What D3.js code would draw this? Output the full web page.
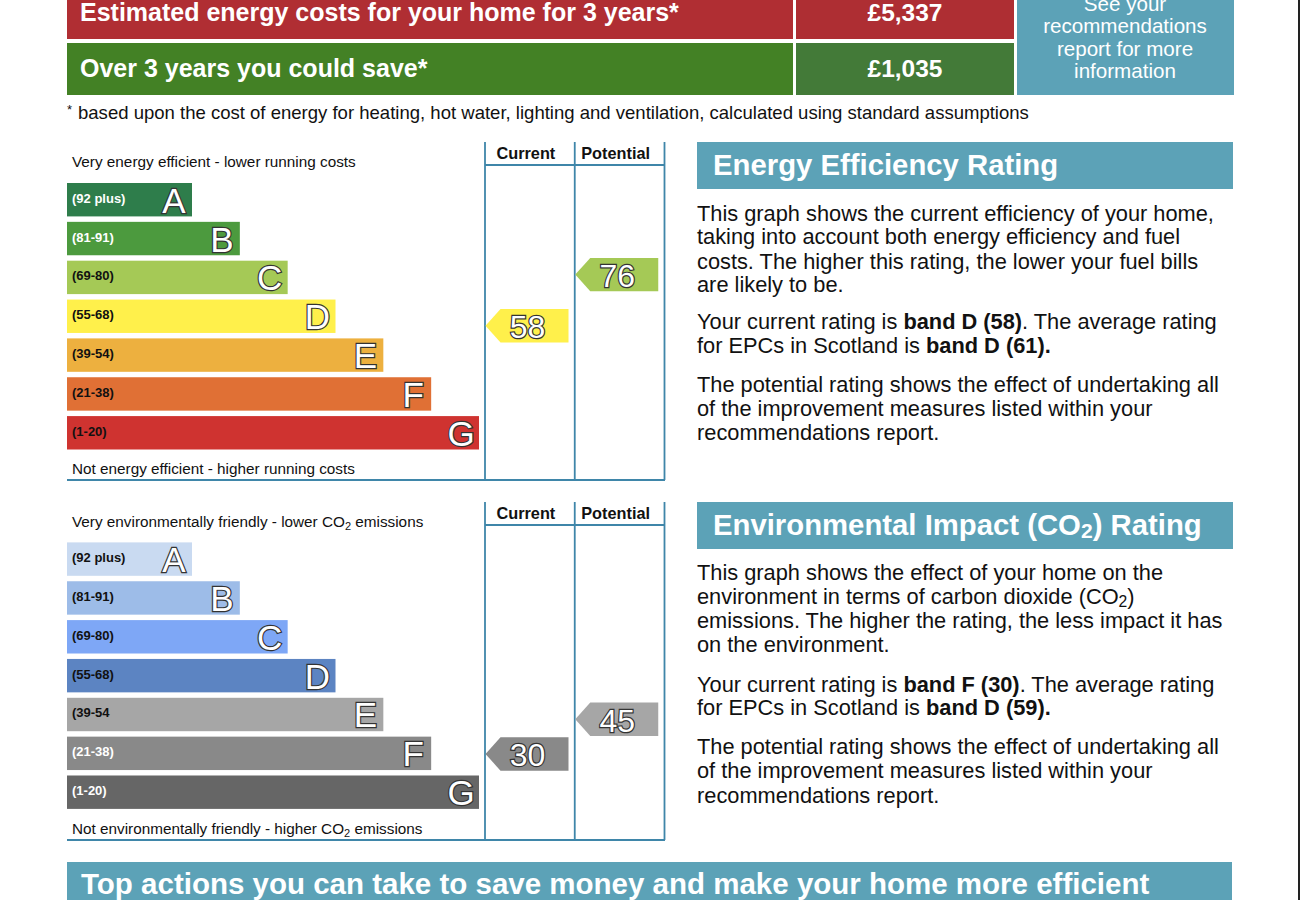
<!DOCTYPE html>
<html>
<head>
<meta charset="utf-8">
<script src="https://cdn.jsdelivr.net/npm/d3@7"></script>
<style>
  html, body { margin: 0; padding: 0; background: #fff; }
  svg { display: block; }
  text { font-family: "Liberation Sans", Arial, sans-serif; }
</style>
</head>
<body>
<div id="chart"></div>
<script>
// bands and their score limits, best band first
var bandLetters = ['A', 'B', 'C', 'D', 'E', 'F', 'G'];
var bandSteps = [1, 2, 3, 4, 5, 6, 7];
var bandRanges = ['(92 plus)', '(81-91)', '(69-80)', '(55-68)', '(39-54)', '(21-38)', '(1-20)'];
var bandRangesCo2 = ['(92 plus)', '(81-91)', '(69-80)', '(55-68)', '(39-54', '(21-38)', '(1-20)'];
var bandTops = [100, 92, 81, 69, 55, 39, 21];
var bandBottoms = [92, 81, 69, 55, 39, 21, 1];

var energyColors = ['#2e7d4b', '#4c9a3e', '#a5c956', '#fff04b', '#edb03f', '#e07035', '#cf3330'];
var energyLabelColors = ['#fff', '#fff', '#111', '#111', '#111', '#111', '#111'];
var co2Colors = ['#c9daf1', '#9dbce8', '#7ea7f6', '#5c84c2', '#a6a6a6', '#898989', '#666666'];
var co2LabelColors = ['#111', '#111', '#111', '#111', '#111', '#fff', '#fff'];

var energyScores = [58, 76];
var energyArrowColors = ['#fff04b', '#a5c956'];
var co2Scores = [30, 45];
var co2ArrowColors = ['#898989', '#a6a6a6'];
var columnNames = ['Current', 'Potential'];

var costRows = ['Estimated energy costs for your home for 3 years*', 'Over 3 years you could save*'];
var costValues = ['£5,337', '£1,035'];
var costColors = ['#b02e33', '#438125'];
var costValueColors = ['#ae2e33', '#437a38'];
var seeReport = ['See your', 'recommendations', 'report for more', 'information'];

var energyText = [
  ['This graph shows the current efficiency of your home,', 221],
  ['taking into account both energy efficiency and fuel', 244],
  ['costs. The higher this rating, the lower your fuel bills', 269],
  ['are likely to be.', 292],
  ['Your current rating is <b>band D (58)</b>. The average rating', 329],
  ['for EPCs in Scotland is <b>band D (61).</b>', 353],
  ['The potential rating shows the effect of undertaking all', 392],
  ['of the improvement measures listed within your', 416],
  ['recommendations report.', 440]
];
var co2Text = [
  ['This graph shows the effect of your home on the', 579.5],
  ['environment in terms of carbon dioxide (CO<s>2</s>)', 604],
  ['emissions. The higher the rating, the less impact it has', 628],
  ['on the environment.', 652],
  ['Your current rating is <b>band F (30)</b>. The average rating', 692],
  ['for EPCs in Scotland is <b>band D (59).</b>', 715],
  ['The potential rating shows the effect of undertaking all', 754],
  ['of the improvement measures listed within your', 778],
  ['recommendations report.', 803]
];

var teal = '#5ca2b7';
var ruleColor = '#3f86a9';

var svg = d3.select('#chart').append('svg')
  .attr('width', 1300)
  .attr('height', 900);

svg.append('rect').attr('x', 1298).attr('y', 0).attr('width', 2).attr('height', 900).attr('fill', '#222');

// turns "<b>..</b>" and "<s>..</s>" markup into tspans
function addRichText(sel, str) {
  var nextDy = null;
  str.split(/(<b>.*?<\/b>|<s>.*?<\/s>)/).forEach(function(part) {
    if (!part) return;
    if (part.indexOf('<s>') === 0) {
      sel.append('tspan').attr('dy', 3).attr('font-size', '0.72em').text(part.replace(/<\/?s>/g, ''));
      nextDy = -3;
      return;
    }
    var bold = part.indexOf('<b>') === 0;
    var span = sel.append('tspan').text(part.replace(/<\/?b>/g, ''));
    if (bold) span.attr('font-weight', 'bold');
    if (nextDy !== null) {
      span.attr('dy', nextDy);
      nextDy = null;
    }
  });
}

function drawCosts() {
  var rowY = d3.scaleOrdinal().domain(costRows).range([[-10, 39], [43, 95]]);
  costRows.forEach(function(row, i) {
    var span = rowY(row);
    svg.append('rect').attr('x', 67).attr('y', span[0]).attr('width', 726).attr('height', span[1] - span[0])
      .attr('fill', costColors[i]);
    svg.append('rect').attr('x', 796).attr('y', span[0]).attr('width', 218).attr('height', span[1] - span[0])
      .attr('fill', costValueColors[i]);
    svg.append('text').attr('x', 80).attr('y', i == 0 ? 21 : 77)
      .attr('font-size', 25).attr('font-weight', 'bold').attr('fill', '#fff').text(row);
    svg.append('text').attr('x', 905).attr('y', i == 0 ? 21 : 77).attr('text-anchor', 'middle')
      .attr('font-size', 24.5).attr('font-weight', 'bold').attr('fill', '#fff').text(costValues[i]);
  });
  svg.append('rect').attr('x', 1017).attr('y', -10).attr('width', 217).attr('height', 105).attr('fill', teal);
  seeReport.forEach(function(line, i) {
    svg.append('text').attr('x', 1125).attr('y', 11 + i * 22.3).attr('text-anchor', 'middle')
      .attr('font-size', 20.6).attr('fill', '#fff').text(line);
  });
  var note = svg.append('text').attr('x', 67).attr('y', 119).attr('font-size', 18.55).attr('fill', '#111');
  note.append('tspan').attr('font-size', 13).attr('dy', -5).text('*');
  note.append('tspan').attr('x', 78).attr('dy', 5)
    .text('based upon the cost of energy for heating, hot water, lighting and ventilation, calculated using standard assumptions');
}

function drawRating(opts) {
  var g = svg.append('g').attr('transform', 'translate(0,' + opts.offset + ')');

  var y = d3.scaleBand().domain(bandLetters).range([183, 449.5]).paddingInner(0.14);
  var x = d3.scaleLinear().domain([1, 7]).range([192, 479]);

  // score to y position, linear inside each band
  var scoreDomain = [], scoreRange = [];
  bandLetters.forEach(function(l, i) {
    scoreDomain.push(bandTops[i], bandBottoms[i]);
    scoreRange.push(y(l), y(l) + y.bandwidth());
  });
  var scoreY = d3.scaleLinear().domain(scoreDomain).range(scoreRange);

  var bars = g.selectAll('g.band')
    .data(bandLetters).enter()
    .append('g')
    .attr('class', 'band')
    .attr('transform', 'translate(0,' + opts.barShift + ')');

  bars.append('rect')
    .attr('x', 67)
    .attr('y', function(d) { return y(d); })
    .attr('width', function(d, i) { return x(bandSteps[i]) - 67; })
    .attr('height', y.bandwidth())
    .attr('fill', function(d, i) { return opts.colors[i]; });

  bars.append('text')
    .attr('x', 72)
    .attr('y', function(d) { return y(d) + y.bandwidth() / 2 + 3; })
    .attr('font-size', 13)
    .attr('font-weight', 'bold')
    .attr('fill', function(d, i) { return opts.labelColors[i]; })
    .text(function(d, i) { return opts.ranges[i]; });

  // outline sits behind the white fill
  bars.append('text')
    .attr('x', function(d, i) { return x(bandSteps[i]) - 18; })
    .attr('y', function(d) { return y(d) + y.bandwidth() / 2 + 13; })
    .attr('text-anchor', 'middle')
    .attr('font-size', 35)
    .attr('fill', '#fff')
    .attr('stroke', '#333')
    .attr('stroke-width', 2.4)
    .attr('paint-order', 'stroke')
    .text(function(d) { return d; });

  // captions above and below the bars
  var topCaption = g.append('text').attr('x', 72).attr('y', 167).attr('font-size', 15.3).attr('fill', '#111');
  addRichText(topCaption, opts.topCaption);
  var bottomCaption = g.append('text').attr('x', 72).attr('y', 474).attr('font-size', 15.3).attr('fill', '#111');
  addRichText(bottomCaption, opts.bottomCaption);

  // table rules
  var colX = d3.scalePoint().domain([0, 1, 2]).range([485, 664.5]);
  [0, 1, 2].forEach(function(c) {
    g.append('line').attr('x1', colX(c)).attr('x2', colX(c)).attr('y1', 142).attr('y2', 480)
      .attr('stroke', ruleColor).attr('stroke-width', 1.8);
  });
  g.append('line').attr('x1', 485).attr('x2', 664.5).attr('y1', 165).attr('y2', 165)
    .attr('stroke', ruleColor).attr('stroke-width', 1.8);
  g.append('line').attr('x1', 67).attr('x2', 665).attr('y1', 480).attr('y2', 480)
    .attr('stroke', ruleColor).attr('stroke-width', 1.8);

  columnNames.forEach(function(name, i) {
    g.append('text').attr('x', (colX(i) + colX(i + 1)) / 2 - 4).attr('y', 159)
      .attr('text-anchor', 'middle').attr('font-size', 16.3).attr('font-weight', 'bold').attr('fill', '#111')
      .text(name);
  });

  // score arrows
  opts.scores.forEach(function(score, i) {
    var left = colX(i) + 0.5;
    var h = y.bandwidth();
    var cy = scoreY(score);
    var arrow = d3.path();
    arrow.moveTo(left, cy);
    arrow.lineTo(left + 15, cy - h / 2);
    arrow.lineTo(left + 83, cy - h / 2);
    arrow.lineTo(left + 83, cy + h / 2);
    arrow.lineTo(left + 15, cy + h / 2);
    arrow.closePath();
    g.append('path').attr('d', arrow.toString()).attr('fill', opts.arrowColors[i]);
    g.append('text').attr('x', left + 42).attr('y', cy + 12.5).attr('text-anchor', 'middle')
      .attr('font-size', 32).attr('fill', '#fff').attr('stroke', '#333').attr('stroke-width', 2.4)
      .attr('paint-order', 'stroke')
      .text(score);
  });

  // text panel on the right
  g.append('rect').attr('x', 697).attr('y', 142).attr('width', 536).attr('height', 47).attr('fill', teal);
  var title = g.append('text').attr('x', 713).attr('y', 175).attr('font-size', 29.3).attr('font-weight', 'bold').attr('fill', '#fff');
  addRichText(title, opts.title);

  opts.body.forEach(function(row) {
    var line = svg.append('text').attr('x', 697).attr('y', row[1]).attr('font-size', 21.8).attr('fill', '#111');
    addRichText(line, row[0]);
  });
}

drawCosts();

drawRating({
  offset: 0,
  barShift: 0,
  colors: energyColors,
  labelColors: energyLabelColors,
  ranges: bandRanges,
  scores: energyScores,
  arrowColors: energyArrowColors,
  title: 'Energy Efficiency Rating',
  topCaption: 'Very energy efficient - lower running costs',
  bottomCaption: 'Not energy efficient - higher running costs',
  body: energyText
});

drawRating({
  offset: 360,
  barShift: -0.6,
  colors: co2Colors,
  labelColors: co2LabelColors,
  ranges: bandRangesCo2,
  scores: co2Scores,
  arrowColors: co2ArrowColors,
  title: 'Environmental Impact (CO<s>2</s>) Rating',
  topCaption: 'Very environmentally friendly - lower CO<s>2</s> emissions',
  bottomCaption: 'Not environmentally friendly - higher CO<s>2</s> emissions',
  body: co2Text
});

svg.append('rect').attr('x', 67).attr('y', 862).attr('width', 1165).attr('height', 40).attr('fill', teal);
svg.append('text').attr('x', 81).attr('y', 894).attr('font-size', 29.5).attr('font-weight', 'bold').attr('fill', '#fff')
  .text('Top actions you can take to save money and make your home more efficient');
</script>
</body>
</html>
